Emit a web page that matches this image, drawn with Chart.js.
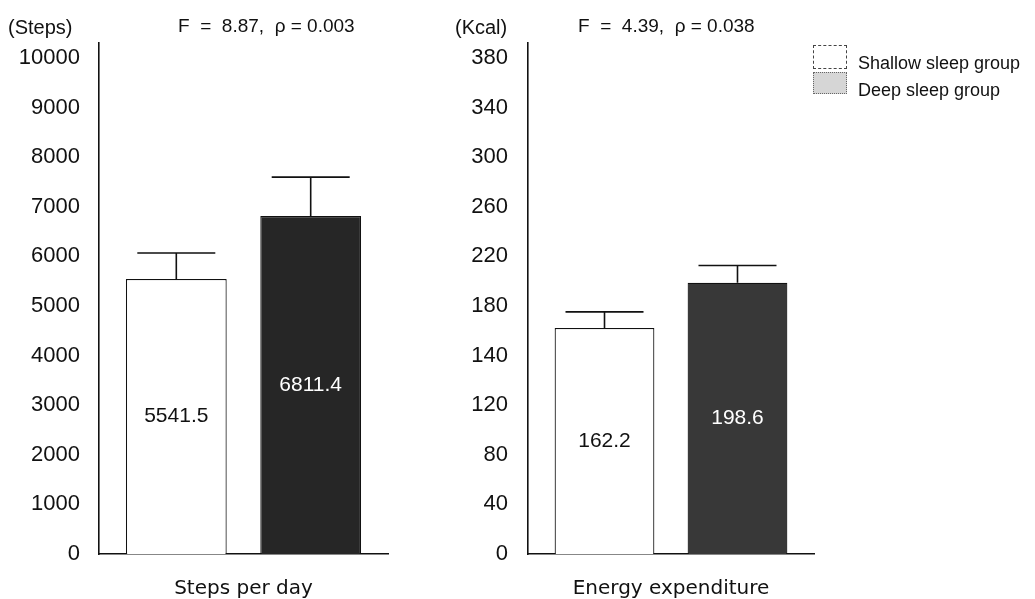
<!DOCTYPE html>
<html>
<head>
<meta charset="utf-8">
<script src="https://cdn.jsdelivr.net/npm/chart.js@4.4.1/dist/chart.umd.min.js"></script>
<style>
  body { margin: 0; background: #fff; }
  #wrap { position: relative; width: 1035px; height: 599px; overflow: hidden; }
  canvas { position: absolute; top: 0; }
  #c1 { left: 0; }
  #c2 { left: 420px; }
  .leg { position: absolute; left: 813px; font: 18px "Liberation Sans", Arial, sans-serif; color: #111; }
  .leg span.box { position: absolute; left: 0; width: 34px; box-sizing: border-box; }
  .leg span.txt { position: absolute; left: 45px; white-space: nowrap; }
</style>
</head>
<body>
<div id="wrap">
  <canvas id="c1" width="394" height="599"></canvas>
  <canvas id="c2" width="400" height="599"></canvas>
  <div class="leg" style="top:45px">
    <span class="box" style="top:0;height:24px;border:1px dashed #444;background:#fff"></span>
    <span class="txt" style="top:8px">Shallow sleep group</span>
  </div>
  <div class="leg" style="top:72px">
    <span class="box" style="top:0;height:22px;border:1px dotted #666;background:#d6d6d6"></span>
    <span class="txt" style="top:8px">Deep sleep group</span>
  </div>
</div>
<script>
const seriesNames = ['Shallow sleep group', 'Deep sleep group'];

const stepsCategory = ['Steps per day'];
const stepsMean = [5541.5, 6811.4];
const stepsErr = [525, 785];
const stepsTicks = [0, 1000, 2000, 3000, 4000, 5000, 6000, 7000, 8000, 9000, 10000];

const energyCategory = ['Energy expenditure'];
const energyMean = [162.2, 198.6];
const energyErr = [13, 14];
// the printed axis is uneven below 140 (…80, 120, 140…), bars follow the upper labels
const energyTickValues = [-20, 20, 60, 100, 140, 180, 220, 260, 300, 340, 380];
const energyTickLabels = ['0', '40', '80', '120', '140', '180', '220', '260', '300', '340', '380'];

const tickFont = { family: 'Liberation Sans', size: 22 };
const catFont = { family: 'DejaVu Sans', size: 20 };

// error bars + value labels inside bars + panel header texts
const extras = {
  id: 'extras',
  afterDatasetsDraw(chart) {
    const ctx = chart.ctx;
    const y = chart.scales.y;
    const o = chart.options.plugins.extras;
    chart.data.datasets.forEach((ds, i) => {
      const meta = chart.getDatasetMeta(i);
      meta.data.forEach((bar, j) => {
        const v = ds.data[j];
        const top = y.getPixelForValue(v + o.err[i][j]);
        ctx.save();
        ctx.strokeStyle = '#111';
        ctx.lineWidth = 1.6;
        ctx.beginPath();
        ctx.moveTo(bar.x, bar.y);
        ctx.lineTo(bar.x, top);
        ctx.moveTo(bar.x - 39, top);
        ctx.lineTo(bar.x + 39, top);
        ctx.stroke();
        ctx.fillStyle = i === 0 ? '#111' : '#fff';
        ctx.font = '21px "Liberation Sans"';
        ctx.textAlign = 'center';
        ctx.textBaseline = 'middle';
        ctx.fillText(v.toFixed(1), bar.x, (bar.y + bar.base) / 2);
        ctx.restore();
      });
    });
    ctx.save();
    ctx.fillStyle = '#111';
    ctx.textBaseline = 'middle';
    ctx.font = '20px "Liberation Sans"';
    ctx.fillText(o.unit, o.unitX, 28);
    ctx.font = '19px "Liberation Sans"';
    ctx.fillText(o.stat, o.statX, 27);
    ctx.restore();
  }
};

function makeChart(id, cats, means, colors, yOpts, axisWidth, extraOpts) {
  return new Chart(document.getElementById(id), {
    type: 'bar',
    data: {
      labels: cats,
      datasets: seriesNames.map((name, i) => ({
        label: name,
        data: [means[i]],
        backgroundColor: colors[i],
        borderColor: '#111',
        borderWidth: 1.2,
        borderSkipped: 'bottom',
        base: yOpts.min,
        categoryPercentage: 0.93,
        barPercentage: 0.75
      }))
    },
    options: {
      responsive: false,
      animation: false,
      layout: { padding: { top: 43, right: 6, left: 0, bottom: 0 } },
      plugins: { legend: { display: false }, tooltip: { enabled: false }, extras: extraOpts },
      scales: {
        x: {
          grid: { display: false, drawTicks: false },
          border: { color: '#111', width: 1.6 },
          ticks: { font: catFont, color: '#111', padding: 23 },
          afterFit(s) { s.height = 45; }
        },
        y: Object.assign({
          grid: { display: false, drawTicks: false },
          border: { color: '#111', width: 1.6 },
          afterFit(s) { s.width = axisWidth; }
        }, yOpts)
      }
    },
    plugins: [extras]
  });
}

makeChart('c1', stepsCategory, stepsMean, ['#ffffff', '#262626'], {
  min: 0,
  max: 10300,
  afterBuildTicks(s) { s.ticks = stepsTicks.map(v => ({ value: v })); },
  ticks: { font: tickFont, color: '#111', padding: 19, callback: (v) => String(v) }
}, 99, { err: [[stepsErr[0]], [stepsErr[1]]], unit: '(Steps)', unitX: 8, stat: 'F  =  8.87,  ρ = 0.003', statX: 178 });

makeChart('c2', energyCategory, energyMean, ['#ffffff', '#383838'], {
  min: -20,
  max: 392,
  afterBuildTicks(s) { s.ticks = energyTickValues.map(v => ({ value: v })); },
  ticks: {
    font: tickFont, color: '#111', padding: 20,
    callback: (v) => energyTickLabels[energyTickValues.indexOf(v)]
  }
}, 108, { err: [[energyErr[0]], [energyErr[1]]], unit: '(Kcal)', unitX: 35, stat: 'F  =  4.39,  ρ = 0.038', statX: 158 });
</script>
</body>
</html>
